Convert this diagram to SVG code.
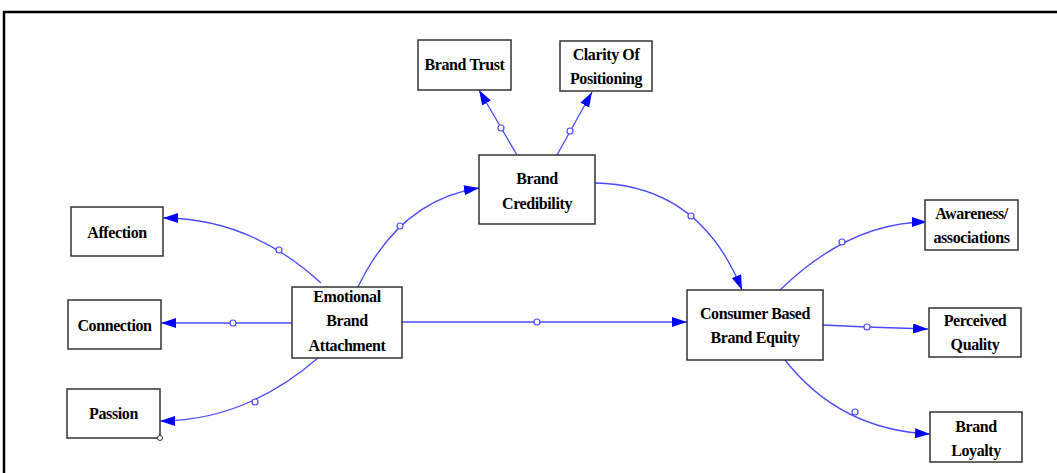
<svg xmlns="http://www.w3.org/2000/svg" width="1057" height="473" viewBox="0 0 1057 473">
<style>
.box{fill:#fff;stroke:#333;stroke-width:1.5}
.t{font-family:"Liberation Serif","Times New Roman",serif;font-weight:bold;font-size:16px;fill:#000;text-anchor:middle;letter-spacing:-0.4px}
.c{fill:none;stroke:#4a4aff;stroke-width:1.3;marker-end:url(#ah)}
.d{fill:#fff;stroke:#4a4aff;stroke-width:1.2}
</style>
<defs>
<marker id="ah" markerUnits="userSpaceOnUse" markerWidth="16" markerHeight="12" refX="15" refY="5" orient="auto">
<path d="M0,0 L15,5 L0,10 z" fill="#0000ff"/>
</marker>
</defs>
<rect width="1057" height="473" fill="#fff"/>
<path d="M4,473 L4,12 L1057,12" fill="none" stroke="#000" stroke-width="2.5"/>
<g id="connectors">
<path class="c" d="M321,283 Q250,218 163,218"/>
<circle class="d" cx="279" cy="250" r="3"/>
<path class="c" d="M292,323 L161,323"/>
<circle class="d" cx="233" cy="323" r="3"/>
<path class="c" d="M318,358 Q245,421 160,421"/>
<circle class="d" cx="255" cy="402" r="3"/>
<path class="c" d="M358,287 Q400,200 479,188"/>
<circle class="d" cx="400" cy="226" r="3"/>
<path class="c" d="M402,322 L687,322"/>
<circle class="d" cx="537" cy="322" r="3"/>
<path class="c" d="M517,155 L479,90"/>
<circle class="d" cx="501" cy="128" r="3"/>
<path class="c" d="M557,155 L592,92"/>
<circle class="d" cx="570" cy="131" r="3"/>
<path class="c" d="M595,183 Q700,185 742,290"/>
<circle class="d" cx="691" cy="216" r="3"/>
<path class="c" d="M780,290 Q850,222 927,222"/>
<circle class="d" cx="842" cy="242" r="3"/>
<path class="c" d="M823,325 L867,327 L928,329"/>
<circle class="d" cx="867" cy="327" r="3"/>
<path class="c" d="M785,360 Q840,430 930,434"/>
<circle class="d" cx="855" cy="412" r="3"/>
</g>
<g id="brand-trust"><rect class="box" x="418" y="40" width="93" height="50"/><text class="t" x="464.5" y="70">Brand Trust</text></g>
<g id="clarity"><rect class="box" x="560" y="41" width="92" height="50"/><text class="t" x="606" y="60">Clarity Of</text><text class="t" x="606" y="84">Positioning</text></g>
<g id="brand-credibility"><rect class="box" x="479" y="155" width="116" height="69"/><text class="t" x="537" y="184">Brand</text><text class="t" x="537" y="209">Credibility</text></g>
<g id="affection"><rect class="box" x="71" y="207" width="92" height="49"/><text class="t" x="117" y="238">Affection</text></g>
<g id="connection"><rect class="box" x="68" y="300" width="93" height="49"/><text class="t" x="114.5" y="331">Connection</text></g>
<g id="passion"><rect class="box" x="67" y="389" width="93" height="49"/><text class="t" x="113.5" y="419">Passion</text><circle cx="160" cy="438" r="2.5" fill="#fff" stroke="#333" stroke-width="1"/></g>
<g id="emotional-brand-attachment"><rect class="box" x="292" y="287" width="110" height="71"/><text class="t" x="347" y="302">Emotional</text><text class="t" x="347" y="326">Brand</text><text class="t" x="347" y="351">Attachment</text></g>
<g id="cbbe"><rect class="box" x="687" y="290" width="136" height="70"/><text class="t" x="755" y="319">Consumer Based</text><text class="t" x="755" y="343">Brand Equity</text></g>
<g id="awareness"><rect class="box" x="925" y="200" width="93" height="50"/><text class="t" x="971.5" y="219">Awareness/</text><text class="t" x="971.5" y="243">associations</text></g>
<g id="perceived-quality"><rect class="box" x="929" y="308" width="92" height="49"/><text class="t" x="975" y="326">Perceived</text><text class="t" x="975" y="350">Quality</text></g>
<g id="brand-loyalty"><rect class="box" x="930" y="412" width="92" height="50"/><text class="t" x="976" y="432">Brand</text><text class="t" x="976" y="456">Loyalty</text></g>
</svg>
